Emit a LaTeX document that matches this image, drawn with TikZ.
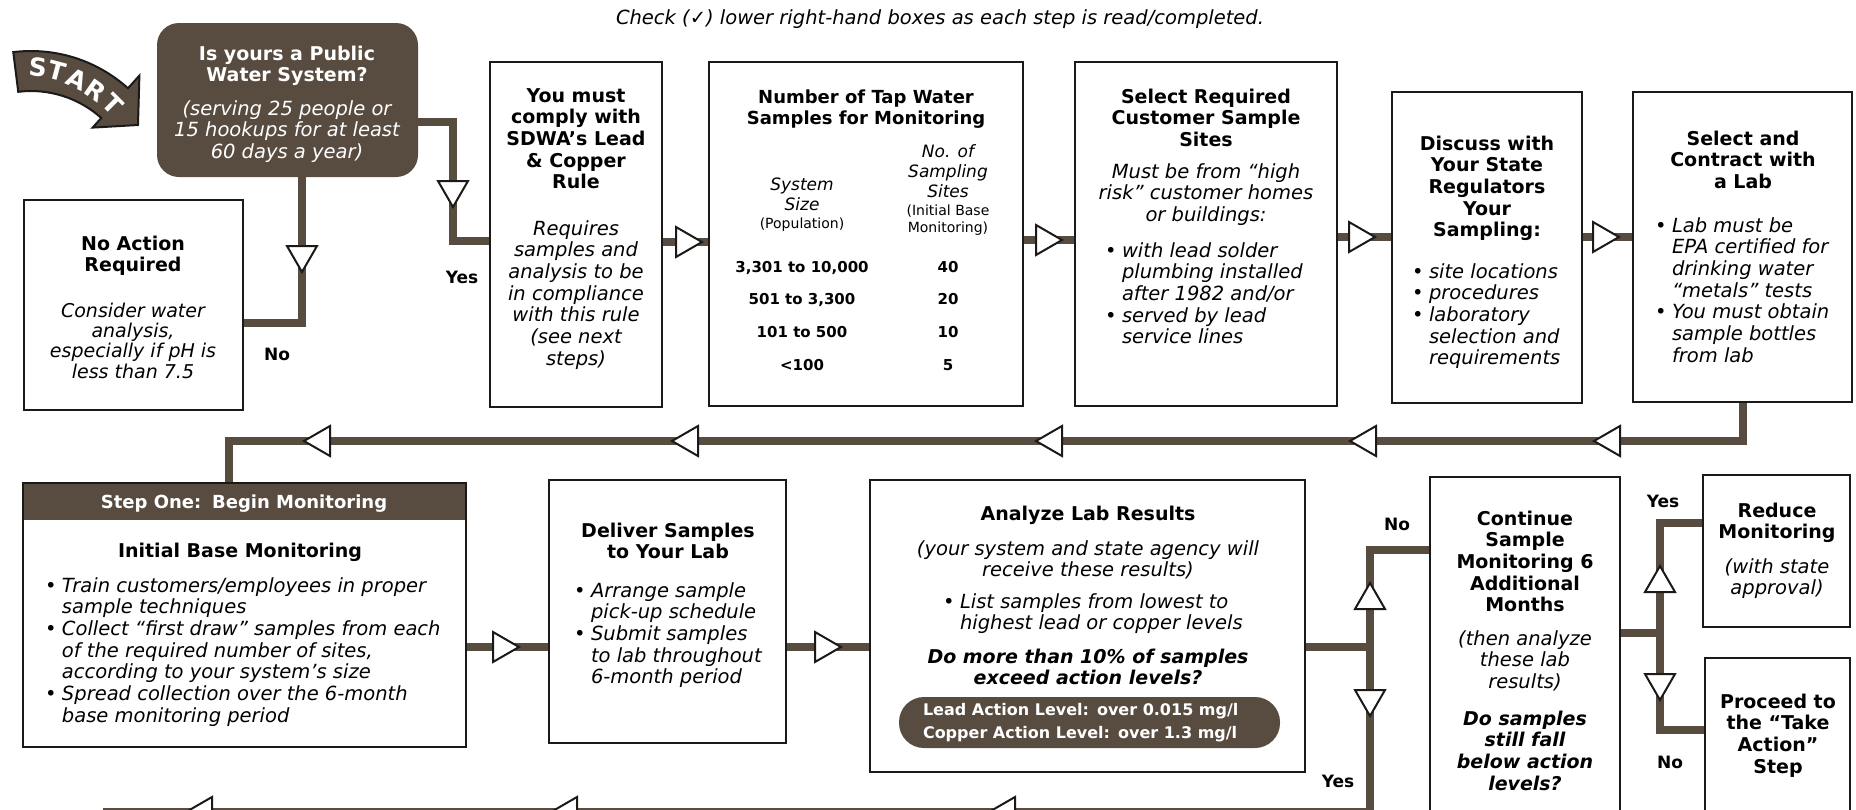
\documentclass[tikz,border=0pt]{standalone}
\usepackage{fontspec}
\setmainfont{DejaVu Sans}
\usetikzlibrary{calc}
\definecolor{brn}{RGB}{88,76,64}
\definecolor{ink}{RGB}{28,26,24}
\pgfdeclarelayer{back}
\pgfdeclarelayer{bg}
\pgfsetlayers{back,bg,main}
\newcommand\fT{\fontsize{19}{21.7}\selectfont\bfseries}
\newcommand\fI{\fontsize{19.5}{21.7}\selectfont\itshape}
\newcommand\fBI{\fontsize{19}{21.7}\selectfont\bfseries\itshape}
\newcommand\bul{\makebox[17pt][l]{\upshape\textbullet}}
\newcommand\ind{\hspace*{17pt}}
\begin{document}
\begin{tikzpicture}[x=1pt,y=-1pt,
  box/.style={draw=ink, line width=2.5pt, fill=white, inner sep=0pt, outer sep=0pt},
  pwsbox/.style={fill=brn, rounded corners=22pt, minimum width=261pt, minimum height=154pt, inner sep=0pt, outer sep=0pt},
  pill/.style={fill=brn, rounded corners=25pt, minimum width=381pt, minimum height=51pt, inner sep=0pt, outer sep=0pt},
  conn/.style={draw=brn, line width=8pt},
  txt/.style={inner sep=0pt, outer sep=0pt, align=center, font=\fT, anchor=base},
  itx/.style={txt, font=\fI},
  bitx/.style={txt, font=\fBI},
  lst/.style={inner sep=0pt, outer sep=0pt, align=left, font=\fI, anchor=base west},
  wt/.style={text=white},
  lbl/.style={inner sep=0pt, font=\fontsize{17}{20}\selectfont\bfseries, anchor=base},
  startl/.style={inner sep=0pt, text=white, font=\fontsize{25}{25}\selectfont\bfseries},
  tri/.pic={\draw[draw=ink, fill=white, line width=2pt, line join=miter] (-12,-15) -- (14,0) -- (-12,15) -- cycle;}
]
\useasboundingbox (0,0) rectangle (1856,809);
\begin{pgfonlayer}{back}
\fill[white] (0,0) rectangle (1856,809);
\end{pgfonlayer}

% header note (anchor base = last line baseline)
\node[anchor=base, inner sep=0pt, font=\fontsize{19.5}{21}\selectfont\itshape] (chk) at (940,24) {Check ({\upshape ✓}) lower right-hand boxes as each step is read/completed.};

% START arrow
\path[fill=brn, draw=ink, line width=2pt, line join=miter] (13.3,52.1) arc[start angle=-97, end angle=-48, radius=145] -- (139.4,75.6) -- (138,125) -- (92.6,127.6) -- (101.3,118) arc[start angle=-48, end angle=-97, radius=105] -- cycle;
\node[startl, rotate=-5] (s1) at (38,67) {S};
\node[startl, rotate=-15] (s2) at (57,71) {T};
\node[startl, rotate=-25] (s3) at (77,79) {A};
\node[startl, rotate=-35] (s4) at (96,91) {R};
\node[startl, rotate=-45] (s5) at (113,104) {T};

% Public water system
\node[pwsbox] (pws) at (287.5,100) {};
\node[txt, wt] (pwsT) at (287,81.7) {Is yours a Public\\Water System?};
\node[itx, wt] (pwsB) at (287,158.4) {(serving 25 people or\\15 hookups for at least\\60 days a year)};

% No action
\node[box, minimum width=219pt, minimum height=210pt] (noact) at (133.5,305) {};
\node[txt] (noactT) at (133,271.7) {No Action\\Required};
\node[itx, font=\fontsize{19}{20.4}\selectfont\itshape] (noactB) at (133,378.2) {Consider water\\analysis,\\especially if pH is\\less than 7.5};

% You must comply
\node[box, minimum width=172pt, minimum height=345pt] (must) at (576,234.5) {};
\node[txt] (mustT) at (576,188.8) {You must\\comply with\\SDWA’s Lead\\\& Copper\\Rule};
\node[itx] (mustB) at (576,365.2) {Requires\\samples and\\analysis to be\\in compliance\\with this rule\\(see next\\steps)};

% Tap water samples
\node[box, minimum width=314pt, minimum height=344pt] (tap) at (866,234) {};
\node[txt, font=\fontsize{18}{21.7}\selectfont\bfseries] (tapT) at (866,124.7) {Number of Tap Water\\Samples for Monitoring};
\node[txt, font=\fontsize{17}{20}\selectfont\itshape] (c1h) at (802,210) {System\\Size};
\node[txt, font=\fontsize{14}{17}\selectfont] (c1p) at (802,228) {(Population)};
\node[txt, font=\fontsize{17}{20}\selectfont\itshape] (c2h) at (948,197) {No. of\\Sampling\\Sites};
\node[txt, font=\fontsize{14}{17}\selectfont] (c2p) at (948,232) {(Initial Base\\Monitoring)};
\node[txt, font=\fontsize{15}{32.7}\selectfont\bfseries] (c1r) at (802,370.1) {3,301 to 10,000\\501 to 3,300\\101 to 500\\<100};
\node[txt, font=\fontsize{15}{32.7}\selectfont\bfseries] (c2r) at (948,370.1) {40\\20\\10\\5};

% Select required sites
\node[box, minimum width=262pt, minimum height=344pt] (selreq) at (1206,234) {};
\node[txt] (selreqT) at (1206,146.4) {Select Required\\Customer Sample\\Sites};
\node[itx] (selreqB) at (1206,221.4) {Must be from “high\\risk” customer homes\\or buildings:};
\node[lst] (selreqL) at (1105,343.8) {\bul with lead solder\\\ind plumbing installed\\\ind after 1982 and/or\\\bul served by lead\\\ind service lines};

% Discuss
\node[box, minimum width=190pt, minimum height=311pt] (disc) at (1487,247.5) {};
\node[txt] (discT) at (1487,236.8) {Discuss with\\Your State\\Regulators\\Your\\Sampling:};
\node[lst] (discL) at (1412,364.8) {\bul site locations\\\bul procedures\\\bul laboratory\\\ind selection and\\\ind requirements};

% Lab
\node[box, minimum width=219pt, minimum height=310pt] (lab) at (1742.5,247) {};
\node[txt] (labT) at (1743,188.4) {Select and\\Contract with\\a Lab};
\node[lst] (labL) at (1655,362.2) {\bul Lab must be\\\ind EPA certified for\\\ind drinking water\\\ind “metals” tests\\\bul You must obtain\\\ind sample bottles\\\ind from lab};

% Step one
\node[box, minimum width=443pt, minimum height=264pt] (step) at (244.5,615) {};
\fill[brn] (step.north west) rectangle ([yshift=-37pt]step.north east);
\draw[ink, line width=2.5pt] (step.north west) rectangle (step.south east);
\node[txt, wt, font=\fontsize{18}{21}\selectfont\bfseries] (stepH) at (244,508) {Step One:\hspace{0.6em}Begin Monitoring};
\node[txt] (stepT) at (240,557) {Initial Base Monitoring};
\node[lst] (stepL) at (45,722.2) {\bul Train customers/employees in proper\\\ind sample techniques\\\bul Collect “first draw” samples from each\\\ind of the required number of sites,\\\ind according to your system’s size\\\bul Spread collection over the 6-month\\\ind base monitoring period};

% Deliver
\node[box, minimum width=237pt, minimum height=263pt] (deliv) at (667.5,611.5) {};
\node[txt] (delivT) at (668,558.7) {Deliver Samples\\to Your Lab};
\node[lst] (delivL) at (574,683.8) {\bul Arrange sample\\\ind pick-up schedule\\\bul Submit samples\\\ind to lab throughout\\\ind 6-month period};

% Analyze
\node[box, minimum width=435pt, minimum height=292pt] (anal) at (1087.5,626) {};
\node[txt] (analT) at (1088,520) {Analyze Lab Results};
\node[itx] (analB) at (1088,576.7) {(your system and state agency will\\receive these results)};
\node[lst] (analL) at (943,629.7) {\bul List samples from lowest to\\\ind highest lead or copper levels};
\node[bitx] (analQ) at (1088,684.7) {Do more than 10\% of samples\\exceed action levels?};
\node[pill] (pill) at (1089.5,722.5) {};
\node[lst, font=\fontsize{16}{23}\selectfont\bfseries, text=white] (pillT) at (923,738) {Lead Action Level:\hspace{0.5em}over 0.015 mg/l\\Copper Action Level:\hspace{0.5em}over 1.3 mg/l};

% Continue
\node[box, minimum width=190pt, minimum height=363pt] (cont) at (1525,658.5) {};
\node[txt] (contT) at (1525,611.8) {Continue\\Sample\\Monitoring 6\\Additional\\Months};
\node[itx] (contB) at (1525,688.4) {(then analyze\\these lab\\results)};
\node[bitx] (contQ) at (1525,790.1) {Do samples\\still fall\\below action\\levels?};

% Reduce
\node[box, minimum width=147pt, minimum height=152pt] (red) at (1776.5,551) {};
\node[txt] (redT) at (1777,538.7) {Reduce\\Monitoring};
\node[itx] (redB) at (1777,594.7) {(with state\\approval)};

% Proceed
\node[box, minimum width=145pt, minimum height=182pt] (proc) at (1777.5,749) {};
\node[txt] (procT) at (1778,773.1) {Proceed to\\the “Take\\Action”\\Step};

% labels
\node[lbl] (yes1) at (462,283) {Yes};
\node[lbl] (no1) at (277,360) {No};
\node[lbl] (no2) at (1397,530) {No};
\node[lbl] (yes2) at (1338,787) {Yes};
\node[lbl] (yes3) at (1663,507) {Yes};
\node[lbl] (no3) at (1670,768) {No};

% connectors
\begin{pgfonlayer}{bg}
\clip (0,0) rectangle (1856,809);
\coordinate (noJ) at (302,323);
\coordinate (yJ1) at (453,122);
\coordinate (yJ2) at (453,241);
\coordinate (r1a) at (0,242);
\coordinate (r1b) at (0,240);
\coordinate (r1c) at (0,237);
\coordinate (r2a) at (1743,441);
\coordinate (r2b) at (229,441);
\coordinate (r3a) at (0,647);
\coordinate (dA) at (1370,647);
\coordinate (dN) at (1370,550);
\coordinate (dB) at (1370,812);
\coordinate (bL) at (103,812);
\coordinate (eA) at (1660,633);
\coordinate (eY) at (1660,523);
\coordinate (eN) at (1660,730);
\draw[conn] (pws.south -| noJ) -- (noJ) -- (noact.east |- noJ);
\draw[conn] (pws.east |- yJ1) -- (yJ1) -- (yJ2) -- (must.west |- yJ2);
\draw[conn] (must.east |- r1a) -- (tap.west |- r1a);
\draw[conn] (tap.east |- r1b) -- (selreq.west |- r1b);
\draw[conn] (selreq.east |- r1c) -- (disc.west |- r1c);
\draw[conn] (disc.east |- r1c) -- (lab.west |- r1c);
\draw[conn] (lab.south -| r2a) -- (r2a) -- (r2b) -- (step.north -| r2b);
\draw[conn] (step.east |- r3a) -- (deliv.west |- r3a);
\draw[conn] (deliv.east |- r3a) -- (anal.west |- r3a);
\draw[conn] (anal.east |- dA) -- (dA);
\draw[conn] (cont.west |- dN) -- (dN) -- (dB) -- (bL);
\draw[conn] (cont.east |- eA) -- (eA);
\draw[conn] (red.west |- eY) -- (eY) -- (eN) -- (proc.west |- eN);
\end{pgfonlayer}

% arrow triangles
\pic[rotate=-90] at (302,258) {tri};
\pic[rotate=-90] at (453,193) {tri};
\pic at (688,242) {tri};
\pic at (1048,240) {tri};
\pic at (1361,237) {tri};
\pic at (1605,237) {tri};
\pic[rotate=180] at (1608,441) {tri};
\pic[rotate=180] at (1364,441) {tri};
\pic[rotate=180] at (1050,441) {tri};
\pic[rotate=180] at (686,441) {tri};
\pic[rotate=180] at (318,441) {tri};
\pic at (505,647) {tri};
\pic at (827,647) {tri};
\pic[rotate=90] at (1370,597) {tri};
\pic[rotate=-90] at (1370,702) {tri};
\pic[rotate=90] at (1660,580) {tri};
\pic[rotate=-90] at (1660,686) {tri};
\pic[rotate=180] at (200,812) {tri};
\pic[rotate=180] at (565,812) {tri};
\pic[rotate=180] at (1003,812) {tri};
\end{tikzpicture}
\end{document}
